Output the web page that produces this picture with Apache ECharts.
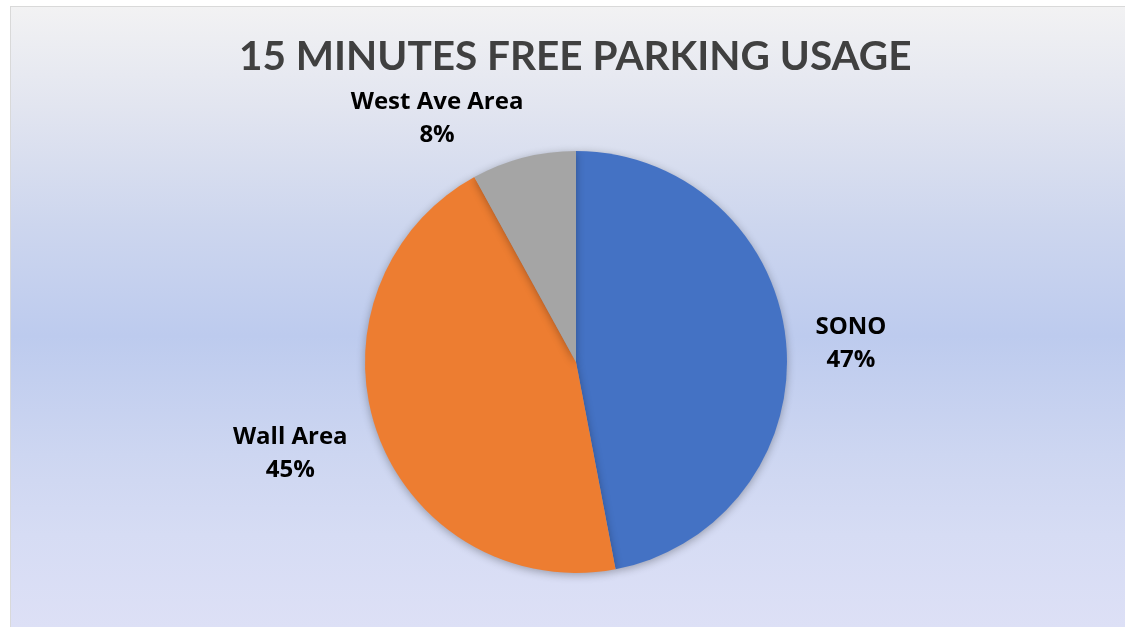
<!DOCTYPE html>
<html>
<head>
<meta charset="utf-8">
<script src="https://cdn.jsdelivr.net/npm/echarts@6/dist/echarts.min.js"></script>
<style>
  html, body { margin: 0; padding: 0; background: #ffffff; }
  #bg {
    position: absolute; left: 10px; top: 6px; width: 1115px; height: 621px;
    border-left: 1px solid #d9d9d9; border-top: 1px solid #d9d9d9;
    background: linear-gradient(to bottom, #f2f2f3 0%, #e2e5f0 16%, #cdd6ee 35%, #bdcbee 53%, #cdd6f1 72%, #d6dcf4 85%, #dde0f6 100%);
  }
  #container { position: absolute; left: 0; top: 0; width: 1125px; height: 627px; }
</style>
</head>
<body>
<div id="bg"></div>
<div id="container"></div>
<script>
var titleText = '15 MINUTES FREE PARKING USAGE';
var areas = ['SONO', 'Wall Area', 'West Ave Area'];
var usage = [47, 45, 8];
var sliceColors = ['#4472c4', '#ed7d31', '#a5a5a5'];

// nudges so labels sit where the original's "best fit" put them
var labelNudge = [[30, 4], [-54, 10], [-74, -10]];

var dom = document.getElementById('container');
var myChart = echarts.init(dom);

var pieData = areas.map(function (name, i) {
  return { name: name, value: usage[i], itemStyle: { color: sliceColors[i] } };
});

var option = {
  backgroundColor: 'transparent',
  animation: false,
  title: {
    text: titleText,
    left: 234,
    top: 31,
    textStyle: {
      fontFamily: 'Lato',
      fontWeight: 'bold',
      fontSize: 40.5,
      color: '#404040'
    }
  },
  series: [
    {
      type: 'pie',
      center: [576, 362],
      radius: 211,
      startAngle: 90,
      clockwise: true,
      percentPrecision: 0,
      data: pieData,
      itemStyle: {
        borderWidth: 0,
        shadowBlur: 8,
        shadowOffsetY: 2,
        shadowColor: 'rgba(0,0,0,0.3)'
      },
      label: {
        show: true,
        position: 'outside',
        formatter: '{b}\n{d}%',
        fontFamily: 'Open Sans',
        fontWeight: 'bold',
        fontSize: 24,
        lineHeight: 33,
        color: '#000000'
      },
      labelLine: { show: false, length: 30, length2: 0 },
      labelLayout: function (p) {
        var n = labelNudge[p.dataIndex];
        return { align: 'center', verticalAlign: 'middle', dx: n[0], dy: n[1] };
      },
      emphasis: { disabled: true }
    }
  ]
};

myChart.setOption(option);
</script>
</body>
</html>
